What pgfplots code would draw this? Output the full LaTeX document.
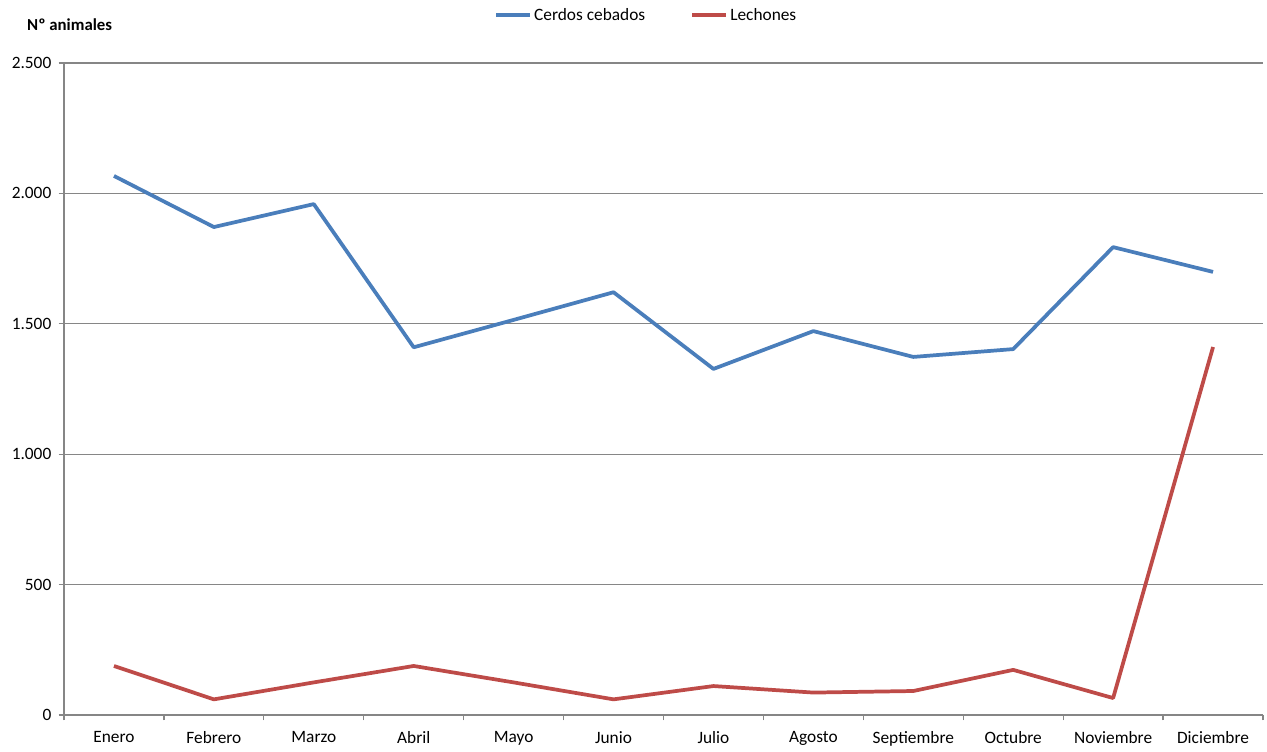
\documentclass[border=0pt]{standalone}
\usepackage{pgfplots}
\pgfplotsset{compat=1.18}
\usepackage{fontspec}
\setmainfont{Carlito}
\definecolor{cblue}{HTML}{4A7EBB}
\definecolor{cred}{HTML}{BE4B48}
\definecolor{cgray}{HTML}{868686}
\begin{document}
\begin{tikzpicture}[x=1pt,y=1pt]
\path[use as bounding box] (-48,-27) rectangle (902.25,536.25);
\begin{axis}[
  at={(0,0)}, anchor=south west,
  scale only axis,
  width=899.25pt, height=489pt,
  xmin=-0.5, xmax=11.5,
  ymin=0, ymax=2500,
  axis x line*=bottom, axis y line*=left,
  axis line style={cgray, line width=0.9pt},
  xtick={0,...,11},
  xticklabels={Enero,Febrero,Marzo,Abril,Mayo,Junio,Julio,Agosto,Septiembre,Octubre,Noviembre,Diciembre},
  major x tick style={draw=none},
  minor xtick={-0.5,0.5,...,11.5},
  minor tick length=4pt,
  minor x tick style={cgray, line width=0.9pt},
  ytick={0,500,...,2500},
  ymajorgrids,
  major grid style={cgray, line width=0.8pt},
  major y tick style={cgray, line width=0.9pt},
  tick align=outside,
  major tick length=4pt,
  tick label style={font=\fontsize{13}{15}\selectfont, text=black},
  /pgf/number format/.cd, 1000 sep={.}, assume math mode=true,
  /pgfplots/.cd,
  yticklabel style={xshift=-2pt},
  xticklabel style={yshift=-5pt},
  legend style={draw=none, at={(rel axis cs:0.486,1.0736)}, anchor=center,
    legend columns=2, font=\fontsize{13}{15}\selectfont,
    /tikz/every even column/.append style={column sep=32pt},
    inner sep=0pt},
  legend image code/.code={\draw[#1, line width=2.8pt] (0pt,0pt) -- (25pt,0pt);},
  clip=false,
]
\addplot[cblue, line width=2.8pt, line join=round] coordinates {
(0,2067) (1,1871) (2,1959) (3,1410) (4,1515) (5,1621) (6,1327) (7,1472) (8,1373) (9,1403) (10,1794) (11,1699)};
\addlegendentry{Cerdos cebados}
\addplot[cred, line width=2.8pt, line join=round] coordinates {
(0,188) (1,60) (2,125) (3,188) (4,125) (5,60) (6,111) (7,86) (8,92) (9,173) (10,65) (11,1411)};
\addlegendentry{Lechones}
\node[anchor=west, inner sep=0pt, font=\fontsize{12.6}{14}\selectfont\bfseries] at (rel axis cs:-0.0309,1.0583) {Nº animales};
\end{axis}
\end{tikzpicture}
\end{document}
